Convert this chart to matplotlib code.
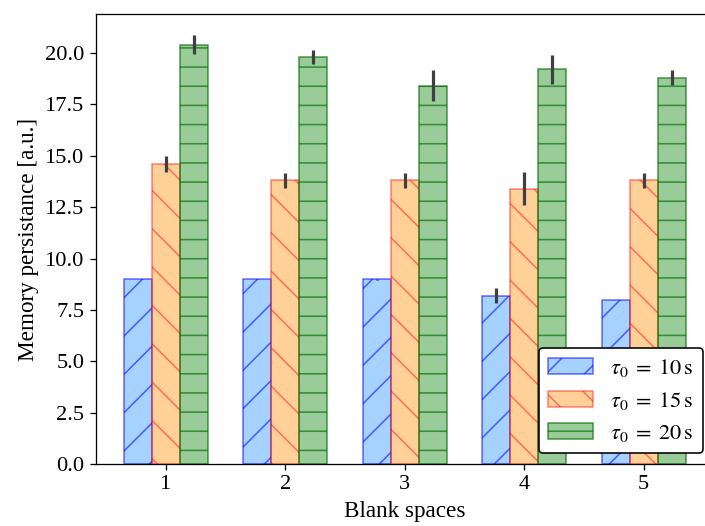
import numpy as np
import matplotlib
matplotlib.use('Agg')
import matplotlib.pyplot as plt

plt.rcParams['font.family'] = ['Liberation Serif', 'DejaVu Serif']
plt.rcParams['mathtext.fontset'] = 'stix'
plt.rcParams['hatch.linewidth'] = 1.0

# data
blanks = [1, 2, 3, 4, 5]
labels = [r'$\tau_0 \;=\; 10\,\mathrm{s}$', r'$\tau_0 \;=\; 15\,\mathrm{s}$',
          r'$\tau_0 \;=\; 20\,\mathrm{s}$']
mem_10 = [9.0, 9.0, 9.0, 8.2, 8.0]
err_10 = [0.0, 0.0, 0.03, 0.35, 0.0]
mem_15 = [14.6, 13.8, 13.8, 13.4, 13.8]
err_15 = [0.4, 0.35, 0.35, 0.8, 0.35]
mem_20 = [20.4, 19.8, 18.4, 19.2, 18.8]
err_20 = [0.45, 0.35, 0.75, 0.7, 0.35]

DPI = 115
fig = plt.figure(figsize=(705 / DPI, 526 / DPI), dpi=DPI)
ax = fig.add_axes([0.1357, 0.1173, 0.877, 0.8561])

w = 0.235
x = np.array(blanks)
styles = [
    ((0.12, 0.56, 1.0, 0.4), (0.0, 0.0, 1.0, 0.55), '/'),
    ((1.0, 0.55, 0.0, 0.4), (1.0, 0.0, 0.0, 0.45), '\\'),
    ((0.0, 0.5, 0.0, 0.4), (0.0, 0.42, 0.0, 0.65), '-'),
]
series = [(mem_10, err_10), (mem_15, err_15), (mem_20, err_20)]
for i, ((vals, errs), (fc, ec, h), lab) in enumerate(zip(series, styles, labels)):
    ax.bar(x + (i - 1) * w, vals, w, yerr=errs, color=fc, edgecolor=ec,
           hatch=h, linewidth=1.0, label=lab,
           error_kw=dict(ecolor='#404040', elinewidth=2.0, capsize=0))

ax.set_xticks(blanks)
ax.set_xlabel('Blank spaces', fontsize=14.5)
ax.set_ylabel('Memory persistance [a.u.]', fontsize=14.5)
ax.tick_params(labelsize=14)
ax.spines['right'].set_visible(False)

leg = ax.legend(loc='lower right', bbox_to_anchor=(703 / 705, 73 / 526),
                bbox_transform=fig.transFigure, borderaxespad=0,
                fontsize=14, framealpha=1)
leg.get_frame().set_edgecolor('black')

fig.savefig('out.png', dpi=DPI)
